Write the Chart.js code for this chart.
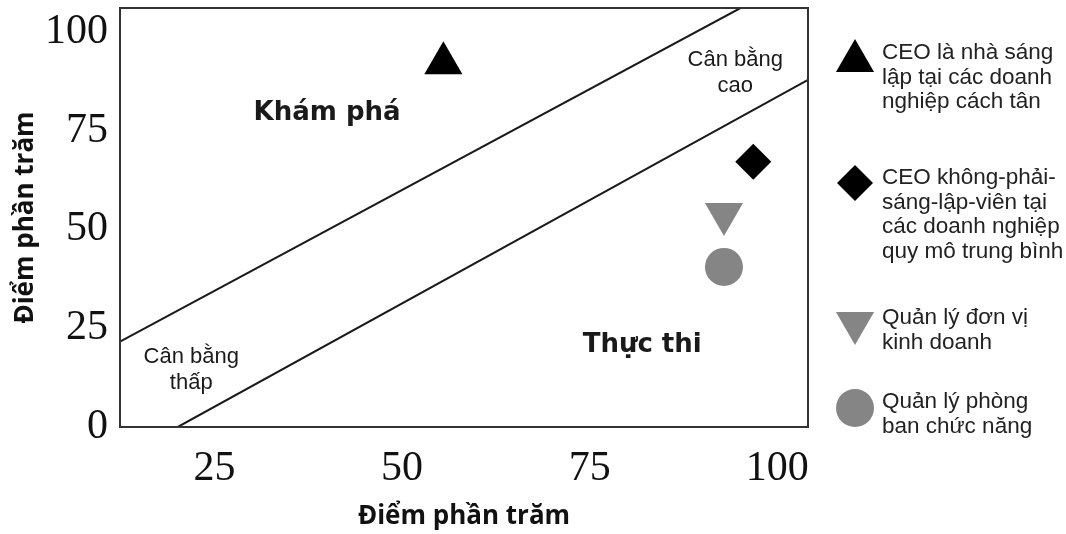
<!DOCTYPE html>
<html>
<head>
<meta charset="utf-8">
<script src="https://cdn.jsdelivr.net/npm/chart.js@4.4.1/dist/chart.umd.min.js"></script>
<style>
  html, body { margin: 0; padding: 0; background: #fff; }
  #wrap { width: 1066px; height: 534px; }
</style>
</head>
<body>
<div id="wrap"><canvas id="chart" width="1066" height="534"></canvas></div>
<script>
// Data
const seriesNames = [
    ['CEO là nhà sáng', 'lập tại các doanh', 'nghiệp cách tân'],
    ['CEO không-phải-', 'sáng-lập-viên tại', 'các doanh nghiệp', 'quy mô trung bình'],
    ['Quản lý đơn vị', 'kinh doanh'],
    ['Quản lý phòng', 'ban chức năng']
];
const markerX = [55.5, 96.8, 92.9, 92.9];
const markerY = [92, 67.1, 53.9, 40.5];

// boundary lines between the zones
const upperLineX = [12.4, 95.1];
const upperLineY = [21.6, 106];
const lowerLineX = [20.1, 104.1];
const lowerLineY = [0, 87.8];

const xTicks = [25, 50, 75, 100];
const yTicks = [0, 25, 50, 75, 100];
const axisTitle = 'Điểm phần trăm';

const regionLabels = [
    { lines: ['Khám phá'], x: 40, y: 79.5, bold: true },
    { lines: ['Thực thi'], x: 82, y: 20.8, bold: true },
    { lines: ['Cân bằng', 'cao'], x: 94.4, y: 89.6, bold: false },
    { lines: ['Cân bằng', 'thấp'], x: 21.9, y: 14.4, bold: false }
];

// marker look, shared by plot and legend
const markerStyle = [
    { pointStyle: 'triangle', radius: 22, rotation: 0, color: '#000000' },
    { pointStyle: 'rectRot', radius: 18, rotation: 0, color: '#000000' },
    { pointStyle: 'triangle', radius: 22, rotation: 180, color: '#858585' },
    { pointStyle: 'circle', radius: 19, rotation: 0, color: '#858585' }
];
const legendY = [61, 183, 323, 408];
const legendTextY = [53, 178, 318, 402];

const datasets = markerX.map((x, i) => ({
    type: 'scatter',
    label: seriesNames[i].join(' '),
    data: [{ x: x, y: markerY[i] }],
    pointStyle: markerStyle[i].pointStyle,
    pointRadius: markerStyle[i].radius,
    rotation: markerStyle[i].rotation,
    backgroundColor: markerStyle[i].color,
    borderColor: markerStyle[i].color,
    borderWidth: 0
}));

[[upperLineX, upperLineY], [lowerLineX, lowerLineY]].forEach(([xs, ys]) => {
    datasets.push({
        type: 'line',
        data: xs.map((x, i) => ({ x: x, y: ys[i] })),
        borderColor: '#1a1a1a',
        borderWidth: 2,
        pointRadius: 0,
        fill: false
    });
});

const extrasPlugin = {
    id: 'extras',
    afterDatasetsDraw(chart) {
        const ctx = chart.ctx;
        const xs = chart.scales.x, ys = chart.scales.y;
        ctx.save();
        ctx.fillStyle = '#1a1a1a';
        ctx.textAlign = 'center';
        ctx.textBaseline = 'middle';
        regionLabels.forEach(lbl => {
            ctx.font = lbl.bold ? 'bold 26px "DejaVu Sans"' : '22px "Liberation Sans"';
            const lh = lbl.bold ? 30 : 26;
            const cx = xs.getPixelForValue(lbl.x);
            const cy = ys.getPixelForValue(lbl.y);
            const top = cy - (lbl.lines.length - 1) * lh / 2;
            lbl.lines.forEach((t, k) => ctx.fillText(t, cx, top + k * lh));
        });
        ctx.restore();
    },
    afterDraw(chart) {
        const ctx = chart.ctx;
        const a = chart.chartArea;
        ctx.save();
        ctx.strokeStyle = '#333';
        ctx.lineWidth = 2;
        ctx.strokeRect(a.left, a.top, a.right - a.left, a.bottom - a.top);

        // legend on the right
        const mx = 855, tx = 882;
        ctx.font = '22.5px "Liberation Sans"';
        ctx.textAlign = 'left';
        ctx.textBaseline = 'middle';
        seriesNames.forEach((lines, i) => {
            const st = markerStyle[i];
            ctx.fillStyle = st.color;
            ctx.strokeStyle = st.color;
            Chart.helpers.drawPoint(ctx, {
                pointStyle: st.pointStyle,
                radius: st.radius,
                rotation: st.rotation,
                borderWidth: 0
            }, mx, legendY[i]);
            ctx.fillStyle = '#222';
            lines.forEach((t, k) => ctx.fillText(t, tx, legendTextY[i] + k * 24.5));
        });
        ctx.restore();
    }
};

new Chart(document.getElementById('chart'), {
    data: { datasets: datasets },
    options: {
        responsive: false,
        animation: false,
        layout: { autoPadding: false, padding: { top: 8, right: 258, left: 0, bottom: 0 } },
        plugins: { legend: { display: false }, tooltip: { enabled: false } },
        scales: {
            x: {
                type: 'linear',
                min: 12.4,
                max: 104.1,
                afterBuildTicks: s => { s.ticks = xTicks.map(v => ({ value: v })); },
                afterFit: s => { s.height = 107; s.paddingLeft = 0; s.paddingRight = 0; },
                grid: { display: false },
                border: { display: false },
                ticks: {
                    padding: 9,
                    color: '#111',
                    font: { family: '"Liberation Serif"', size: 42 }
                },
                title: {
                    display: true,
                    text: axisTitle,
                    color: '#111',
                    padding: { top: 0, bottom: 2 },
                    font: { family: '"Open Sans"', size: 26, weight: 'bold' }
                }
            },
            y: {
                type: 'linear',
                min: 0,
                max: 106,
                afterBuildTicks: s => { s.ticks = yTicks.map(v => ({ value: v })); },
                afterFit: s => { s.width = 120; s.paddingTop = 0; s.paddingBottom = 0; },
                grid: { display: false },
                border: { display: false },
                ticks: {
                    padding: 4,
                    color: '#111',
                    font: { family: '"Liberation Serif"', size: 42 }
                },
                title: {
                    display: true,
                    text: axisTitle,
                    color: '#111',
                    padding: { top: 10, bottom: 0 },
                    font: { family: '"Open Sans"', size: 26, weight: 'bold' }
                }
            }
        }
    },
    plugins: [extrasPlugin]
});
</script>
</body>
</html>
